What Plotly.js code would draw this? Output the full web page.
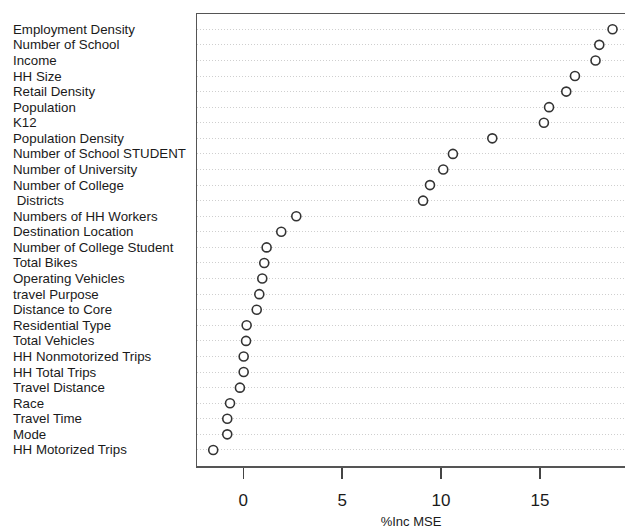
<!DOCTYPE html>
<html>
<head>
<meta charset="utf-8">
<script src="https://cdn.plot.ly/plotly-3.0.1.min.js"></script>
<style>
  html, body { margin: 0; padding: 0; background: #fff; }
  #chart { width: 625px; height: 529px; }
</style>
</head>
<body>
<div id="chart"></div>
<script>
// Variables, listed top to bottom as in the chart
const variables = [
  "Employment Density", "Number of School", "Income", "HH Size", "Retail Density",
  "Population", "K12", "Population Density", "Number of School STUDENT",
  "Number of University", "Number of College", "\u00a0Districts",
  "Numbers of HH Workers", "Destination Location", "Number of College Student",
  "Total Bikes", "Operating Vehicles", "travel Purpose", "Distance to Core",
  "Residential Type", "Total Vehicles", "HH Nonmotorized Trips", "HH Total Trips",
  "Travel Distance", "Race", "Travel Time", "Mode", "HH Motorized Trips"
];
// %Inc MSE values
const incMSE = [
  18.67, 18.0, 17.81, 16.77, 16.33,
  15.46, 15.20, 12.59, 10.60,
  10.11, 9.44, 9.09,
  2.68, 1.92, 1.18,
  1.06, 0.96, 0.81, 0.68,
  0.17, 0.14, 0.02, 0.02,
  -0.17, -0.67, -0.81, -0.81, -1.52
];
const xTicks = [0, 5, 10, 15];

const n = variables.length;
const rowPos = variables.map((v, i) => n - i);

const trace = {
  type: "scatter",
  mode: "markers",
  x: incMSE,
  y: rowPos,
  text: variables,
  hoverinfo: "x+text",
  marker: {
    symbol: "circle",
    size: 9,
    color: "rgba(255,255,255,1)",
    line: { color: "#333333", width: 1.6 }
  },
  showlegend: false
};

const annotations = variables.map((v, i) => ({
  text: v,
  xref: "paper",
  yref: "y",
  x: -0.4346,
  y: rowPos[i],
  xanchor: "left",
  yanchor: "middle",
  showarrow: false,
  font: { family: "Liberation Sans, Arial, sans-serif", size: 13.3, color: "#1a1a1a" }
}));

const layout = {
  width: 625,
  height: 529,
  margin: { l: 197, r: 0, t: 14, b: 63 },
  paper_bgcolor: "#ffffff",
  plot_bgcolor: "#ffffff",
  font: { family: "Liberation Sans, Arial, sans-serif", color: "#1a1a1a" },
  xaxis: {
    range: [-2.34, 19.3],
    tickvals: xTicks,
    ticktext: xTicks.map(String),
    ticks: "outside",
    ticklen: 11,
    tickwidth: 1.5,
    tickcolor: "#444444",
    tickfont: { size: 17, color: "#1a1a1a" },
    ticklabelstandoff: 7,
    showgrid: false,
    zeroline: false,
    showline: true,
    mirror: true,
    linecolor: "#555555",
    linewidth: 1.5,
    title: { text: "%Inc MSE", font: { size: 13, color: "#1a1a1a" }, standoff: 10 }
  },
  yaxis: {
    range: [-0.03, 28.98],
    tickvals: rowPos,
    showticklabels: false,
    ticks: "",
    showgrid: true,
    gridcolor: "#cfcfcf",
    gridwidth: 1,
    griddash: "1px,2px",
    zeroline: false,
    showline: true,
    linecolor: "#555555",
    linewidth: 1.5
  },
  annotations: annotations
};

Plotly.newPlot("chart", [trace], layout, { displayModeBar: false, staticPlot: true });
</script>
</body>
</html>
